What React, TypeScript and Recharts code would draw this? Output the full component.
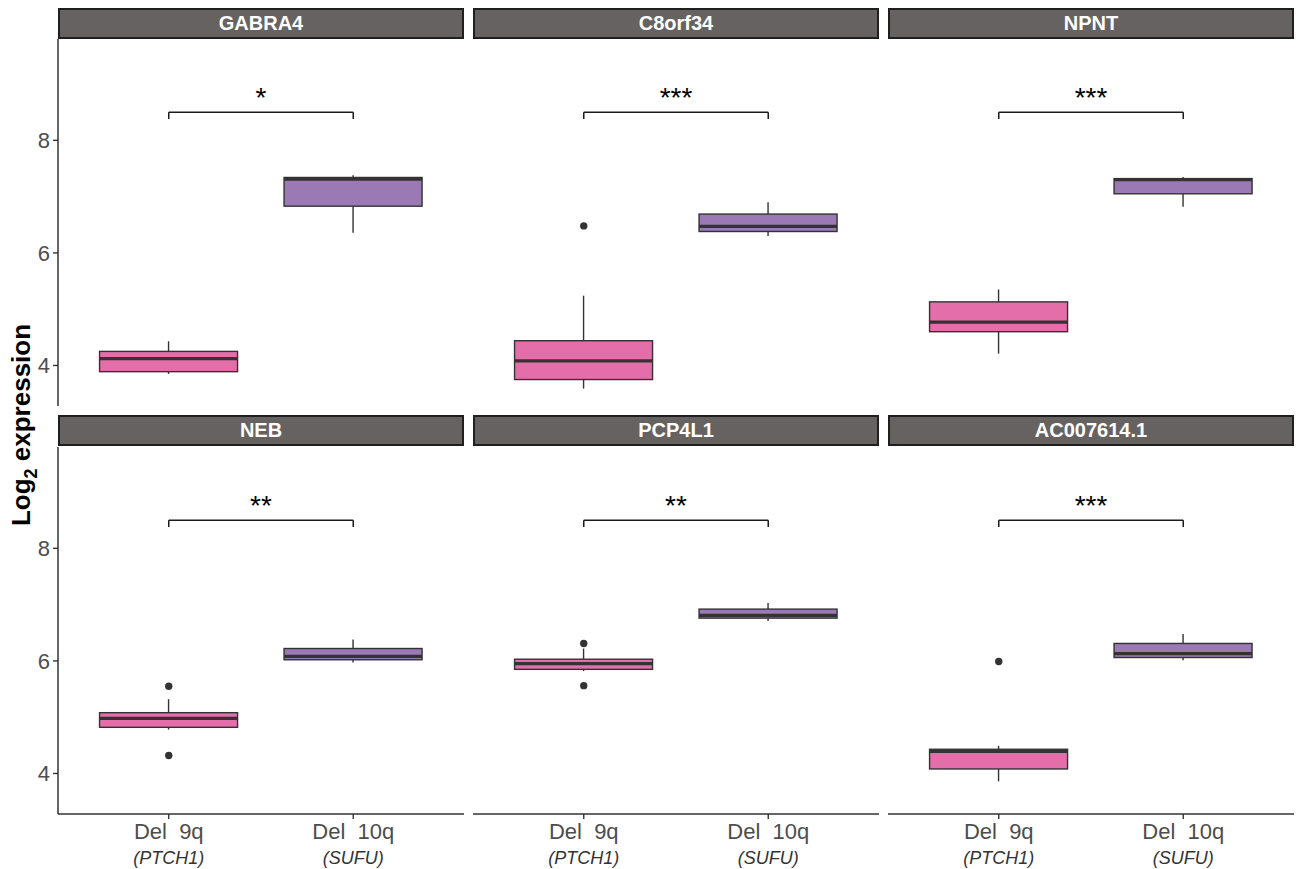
import React from 'react';
import { ComposedChart, Bar, Scatter, XAxis, YAxis, ReferenceLine } from 'recharts';

const GENES = ['GABRA4', 'C8orf34', 'NPNT', 'NEB', 'PCP4L1', 'AC007614.1'];
const GROUPS = ['Del  9q', 'Del  10q'];
const GROUP_GENES = ['(PTCH1)', '(SUFU)'];

// per gene: [Del 9q, Del 10q]
const WHISKER_LOW = [[3.85, 6.36], [3.59, 6.30], [4.21, 6.82], [4.78, 5.97], [5.82, 6.71], [3.86, 6.01]];
const Q1 = [[3.89, 6.83], [3.75, 6.38], [4.60, 7.05], [4.82, 6.02], [5.85, 6.76], [4.08, 6.06]];
const MEDIAN = [[4.12, 7.31], [4.08, 6.47], [4.77, 7.30], [4.98, 6.08], [5.95, 6.81], [4.39, 6.13]];
const Q3 = [[4.25, 7.34], [4.44, 6.69], [5.13, 7.32], [5.08, 6.22], [6.03, 6.92], [4.43, 6.31]];
const WHISKER_HIGH = [[4.43, 7.38], [5.24, 6.90], [5.35, 7.35], [5.32, 6.38], [6.22, 7.03], [4.49, 6.48]];
const OUTLIERS = [
  [[], []],
  [[6.48], []],
  [[], []],
  [[5.55, 4.32], []],
  [[6.31, 5.56], []],
  [[5.99], []],
];
const SIGNIF = ['*', '***', '***', '**', '**', '***'];
const BRACKET_Y = 8.5;
const BRACKET_TICK_Y = 8.38;
const Y_TICKS = [4, 6, 8];
const Y_DOMAIN = [3.28, 9.8];

const GROUP_COLORS = ['#E36EAA', '#9B79B5'];
const LINE = '#333333';
const FONT = '"Liberation Sans", Arial, sans-serif';

const COL_X = [58, 473, 888];
const PANEL_W = 406;
const STRIP_Y = [8, 415];
const STRIP_H = 31;
const PLOT_Y = [39, 447];
const PLOT_H = 367;
const Y_AXIS_W = 50;
const X_AXIS_H = 55;

const BoxShape = (props: any) => {
  const { x, y, width, height, payload, index } = props;
  const top = Math.min(y, y + height);
  const h = Math.abs(height);
  const [lo, hi] = payload.range;
  const py = (v: number) => top + ((hi - v) / (hi - lo)) * h;
  const cx = x + width / 2;
  return (
    <g>
      <line x1={cx} x2={cx} y1={py(hi)} y2={py(payload.q3)} stroke={LINE} strokeWidth={1.4} />
      <line x1={cx} x2={cx} y1={py(payload.q1)} y2={py(lo)} stroke={LINE} strokeWidth={1.4} />
      <rect
        x={x}
        y={py(payload.q3)}
        width={width}
        height={py(payload.q1) - py(payload.q3)}
        fill={GROUP_COLORS[index % GROUP_COLORS.length]}
        stroke={LINE}
        strokeWidth={1.4}
      />
      <line x1={x} x2={x + width} y1={py(payload.median)} y2={py(payload.median)} stroke={LINE} strokeWidth={3.2} />
    </g>
  );
};

const outlierShape = (key: string) => (props: any) => {
  if (props.payload == null || props.payload[key] == null || isNaN(props.cy)) return <g />;
  return <circle cx={props.cx} cy={props.cy} r={3.7} fill={LINE} />;
};

const GroupTick = ({ x, y, payload }: any) => {
  const i = GROUPS.indexOf(payload.value);
  return (
    <g>
      <text x={x} y={y} dy={17.5} textAnchor="middle" fontSize={22} fill="#4D4D4D" fontFamily={FONT} xmlSpace="preserve" style={{ whiteSpace: 'pre' }}>
        {payload.value}
      </text>
      <text x={x} y={y} dy={42.5} textAnchor="middle" fontSize={18} fontStyle="italic" fill="#333333" fontFamily={FONT}>
        {GROUP_GENES[i]}
      </text>
    </g>
  );
};

function Panel({ index }: { index: number }) {
  const col = index % 3;
  const row = Math.floor(index / 3);
  const showY = col === 0;
  const showX = row === 1;
  const data = GROUPS.map((g, j) => ({
    group: g,
    range: [WHISKER_LOW[index][j], WHISKER_HIGH[index][j]],
    q1: Q1[index][j],
    median: MEDIAN[index][j],
    q3: Q3[index][j],
    out0: OUTLIERS[index][j][0],
    out1: OUTLIERS[index][j][1],
  }));
  const width = PANEL_W + (showY ? Y_AXIS_W : 0);
  const height = PLOT_H + (showX ? X_AXIS_H : 0);
  const left = COL_X[col] - (showY ? Y_AXIS_W : 0);

  return (
    <>
      <div
        style={{
          position: 'absolute',
          left: COL_X[col],
          top: STRIP_Y[row],
          width: PANEL_W,
          height: STRIP_H,
          boxSizing: 'border-box',
          background: '#666262',
          border: '2px solid #1f1f1f',
          color: '#ffffff',
          fontWeight: 'bold',
          fontSize: 20,
          fontFamily: FONT,
          display: 'flex',
          alignItems: 'center',
          justifyContent: 'center',
        }}
      >
        {GENES[index]}
      </div>
      <div style={{ position: 'absolute', left, top: PLOT_Y[row] }}>
        <ComposedChart width={width} height={height} data={data} margin={{ top: 0, right: 0, bottom: 0, left: 0 }} barCategoryGap="12.5%">
          <XAxis
            dataKey="group"
            type="category"
            hide={!showX}
            height={X_AXIS_H}
            padding={{ left: 18.5, right: 18.5 }}
            axisLine={{ stroke: LINE, strokeWidth: 1.5 }}
            tickLine={{ stroke: LINE, strokeWidth: 1.4 }}
            tickSize={5}
            tickMargin={2}
            tick={<GroupTick />}
            interval={0}
          />
          <YAxis
            type="number"
            domain={Y_DOMAIN}
            ticks={Y_TICKS}
            allowDataOverflow
            hide={!showY}
            width={Y_AXIS_W}
            axisLine={{ stroke: LINE, strokeWidth: 1.5 }}
            tickLine={{ stroke: LINE, strokeWidth: 1.4 }}
            tickSize={5}
            tickMargin={3}
            tick={{ fontSize: 22, fill: '#4D4D4D', fontFamily: FONT }}
          />
          <Bar dataKey="range" shape={BoxShape} isAnimationActive={false} />
          <Scatter dataKey="out0" shape={outlierShape('out0')} isAnimationActive={false} />
          <Scatter dataKey="out1" shape={outlierShape('out1')} isAnimationActive={false} />
          <ReferenceLine
            segment={[{ x: GROUPS[0], y: BRACKET_Y }, { x: GROUPS[1], y: BRACKET_Y }]}
            stroke="#1a1a1a"
            strokeWidth={1.5}
            label={{ value: SIGNIF[index], position: 'top', offset: 5, fontSize: 28, fill: '#000000', fontFamily: FONT }}
          />
          <ReferenceLine
            segment={[{ x: GROUPS[0], y: BRACKET_Y }, { x: GROUPS[0], y: BRACKET_TICK_Y }]}
            stroke="#1a1a1a"
            strokeWidth={1.5}
          />
          <ReferenceLine
            segment={[{ x: GROUPS[1], y: BRACKET_Y }, { x: GROUPS[1], y: BRACKET_TICK_Y }]}
            stroke="#1a1a1a"
            strokeWidth={1.5}
          />
        </ComposedChart>
      </div>
    </>
  );
}

export default function App() {
  return (
    <div style={{ position: 'absolute', left: 0, top: 0, width: 1296, height: 869, background: '#ffffff', fontFamily: FONT }}>
      <svg width={60} height={869} style={{ position: 'absolute', left: 0, top: 0 }}>
        <text
          x={30}
          y={425}
          transform="rotate(-90, 30, 425)"
          textAnchor="middle"
          fontSize={26}
          fontWeight="bold"
          fontFamily={FONT}
          fill="#000000"
        >
          Log<tspan fontSize={18} dy={7}>2</tspan>
          <tspan dy={-7}> expression</tspan>
        </text>
      </svg>
      {GENES.map((g, i) => (
        <Panel key={g} index={i} />
      ))}
    </div>
  );
}
